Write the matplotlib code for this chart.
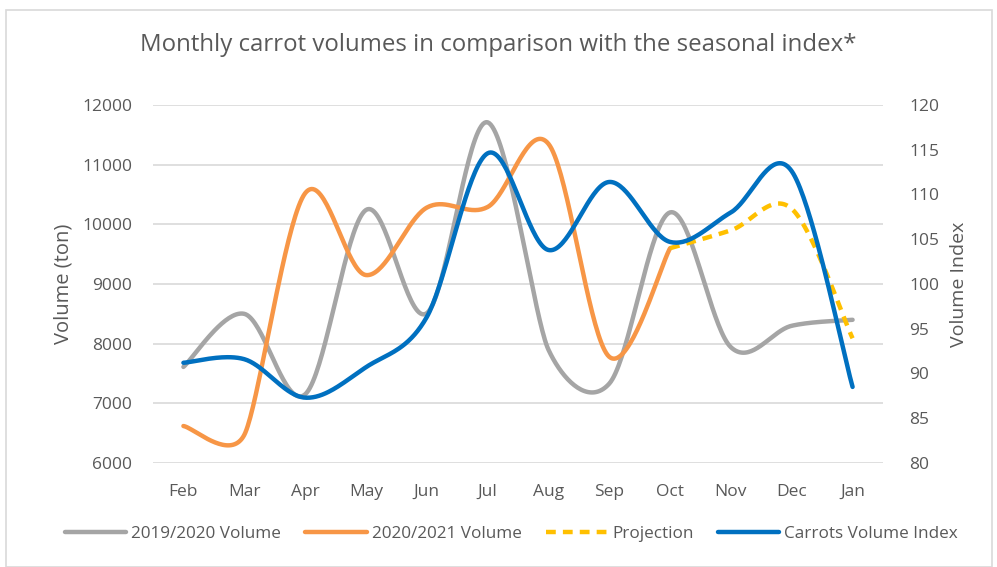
import numpy as np
import matplotlib
matplotlib.use("Agg")
import matplotlib.pyplot as plt
from matplotlib.patches import Rectangle

months = ["Feb", "Mar", "Apr", "May", "Jun", "Jul", "Aug", "Sep", "Oct", "Nov", "Dec", "Jan"]
vol_2019 = [7610, 8500, 7150, 10240, 8510, 11710, 7900, 7330, 10200, 7940, 8300, 8400]
vol_2020 = [6620, 6470, 10520, 9150, 10280, 10290, 11350, 7780, 9600]
projection_months = ["Oct", "Nov", "Dec", "Jan"]
projection = [9600, 9900, 10260, 8090]
index = [91.2, 91.6, 87.3, 90.7, 96.3, 114.6, 103.8, 111.4, 104.7, 108.0, 112.6, 88.5]

title = "Monthly carrot volumes in comparison with the seasonal index*"

FONT = ["Open Sans", "DejaVu Sans"]
TXT = "#595959"


def excel_smooth(axis, x, y, n=40):
    """Excel-like smoothed line: Bezier segments computed in display space."""
    pts = axis.transData.transform(np.column_stack([np.asarray(x, float), np.asarray(y, float)]))
    m = len(pts)

    def factor(p0, p1, p2):
        d01 = np.hypot(*(p1 - p0))
        d12 = np.hypot(*(p2 - p1))
        d02 = np.hypot(*(p2 - p0))
        if d02 == 0:
            return 0.0
        f = 1 / 6
        if d01 == 0 or d12 == 0:
            return f
        if d02 * f > min(d01, d12) / 2:
            f = min(d01, d12) / (2 * d02)
        return f

    t = np.linspace(0, 1, n)[:, None]
    out = []
    for i in range(m - 1):
        p1, p2 = pts[i], pts[i + 1]
        p0 = pts[i - 1] if i > 0 else p1
        p3 = pts[i + 2] if i + 2 < m else p2
        c1 = p1 + factor(p0, p1, p2) * (p2 - p0)
        c2 = p2 - factor(p1, p2, p3) * (p3 - p1)
        seg = (1 - t) ** 3 * p1 + 3 * (1 - t) ** 2 * t * c1 + 3 * (1 - t) * t ** 2 * c2 + t ** 3 * p2
        out.append(seg if i == 0 else seg[1:])
    xy = axis.transData.inverted().transform(np.vstack(out))
    return xy[:, 0], xy[:, 1]


fig = plt.figure(figsize=(9.97, 5.67), dpi=100)
fig.patch.set_facecolor("white")
W, H = 997, 567
fig.patches.append(Rectangle((6 / W, 0), (992 - 6) / W, 1 - 10 / H, transform=fig.transFigure,
                             fill=False, edgecolor="#D9D9D9", linewidth=1.2))

ax = fig.add_axes([153 / W, 1 - 463 / H, (883 - 153) / W, (463 - 105) / H])
ax2 = ax.twinx()

xi = np.arange(len(months))
ax.set_xlim(-0.5, len(months) - 0.5)
ax.set_ylim(6000, 12000)
ax2.set_ylim(80, 120)
ax.set_yticks(np.arange(6000, 12001, 1000))
ax2.set_yticks(np.arange(80, 121, 5))
ax.set_xticks(xi)
ax.set_xticklabels(months)

for yv in np.arange(6000, 12001, 1000):
    ax.axhline(yv, color="#D9D9D9", linewidth=1.2, zorder=0)

for a in (ax, ax2):
    for s in a.spines.values():
        s.set_visible(False)
    a.tick_params(length=0, colors=TXT, labelsize=12.5)
    for lab in a.get_xticklabels() + a.get_yticklabels():
        lab.set_fontfamily(FONT)
ax.tick_params(axis="y", pad=15)
ax2.tick_params(axis="y", pad=19)
ax.tick_params(axis="x", pad=15)

lw = 3.2
x1, y1 = excel_smooth(ax, xi, vol_2019)
l1, = ax.plot(x1, y1, color="#A5A5A5", lw=lw, solid_capstyle="round", label="2019/2020 Volume", zorder=2)
x2, y2 = excel_smooth(ax, xi[:len(vol_2020)], vol_2020)
l2, = ax.plot(x2, y2, color="#F79646", lw=lw, solid_capstyle="round", label="2020/2021 Volume", zorder=3)
px = [months.index(m) for m in projection_months]
x3, y3 = excel_smooth(ax, px, projection)
l3, = ax.plot(x3, y3, color="#FFC000", lw=lw, linestyle=(0, (2.2, 1.6)), label="Projection", zorder=4)
x4, y4 = excel_smooth(ax2, xi, index)
l4, = ax2.plot(x4, y4, color="#0070C0", lw=lw, solid_capstyle="round", label="Carrots Volume Index", zorder=5)

ax.set_ylabel("Volume (ton)", color=TXT, fontsize=14.5, family=FONT, labelpad=6)
ax2.set_ylabel("Volume Index", color=TXT, fontsize=14, family=FONT, labelpad=8)

fig.text(0.5, 1 - 45 / H, title, ha="center", va="center", color=TXT, fontsize=17.3, family=FONT)

leg = fig.legend(handles=[l1, l2, l3, l4], loc="center", bbox_to_anchor=(0.513, 1 - 534 / H),
                 ncol=4, frameon=False, prop={"family": FONT, "size": 12.3}, handlelength=3.6,
                 columnspacing=1.4, handletextpad=0.3)
for t in leg.get_texts():
    t.set_color(TXT)

fig.savefig("out.png", dpi=100, facecolor="white")
